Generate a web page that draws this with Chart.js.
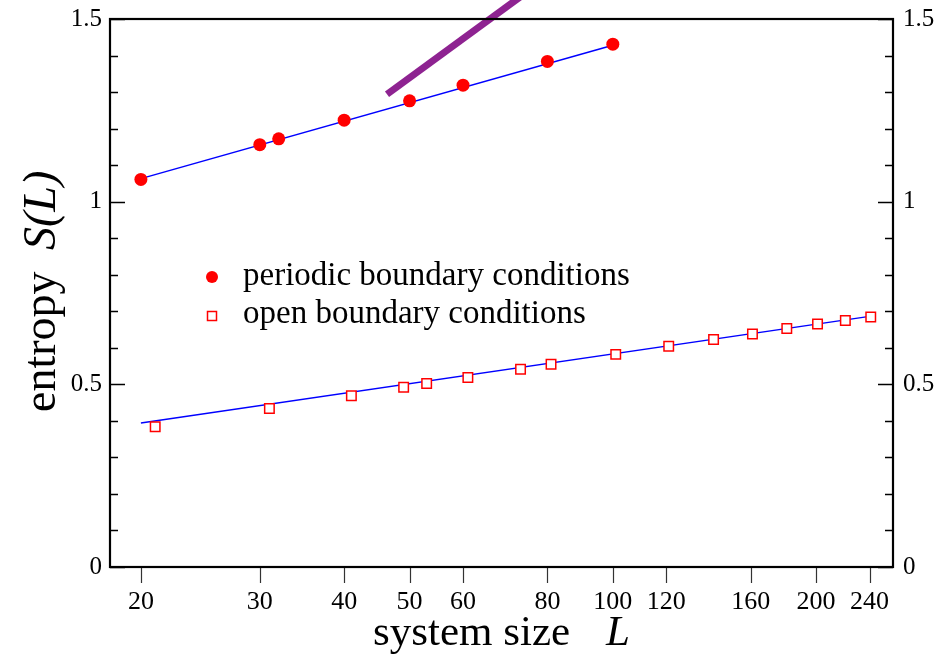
<!DOCTYPE html>
<html>
<head>
<meta charset="utf-8">
<script src="https://cdn.jsdelivr.net/npm/chart.js@4.4.0/dist/chart.umd.min.js"></script>
<style>
  html, body { margin: 0; padding: 0; background: #fff; }
  #wrap { width: 948px; height: 654px; }
</style>
</head>
<body>
<div id="wrap"><canvas id="entropyChart" width="948" height="654"></canvas></div>
<script>
// ===== data =====
const periodicL = [20, 30, 32, 40, 50, 60, 80, 100];
const periodicS = [1.061, 1.156, 1.172, 1.223, 1.276, 1.319, 1.384, 1.431];

const openL = [21, 31, 41, 49, 53, 61, 73, 81, 101, 121, 141, 161, 181, 201, 221, 241];
const openS = [0.384, 0.434, 0.469, 0.492, 0.502, 0.519, 0.541, 0.555, 0.582, 0.604, 0.6225, 0.638, 0.653, 0.665, 0.675, 0.684];

// fitted lines
const fitPeriodicL = [20, 100];
const fitPeriodicS = [1.063, 1.428];
const fitOpenL = [20, 240];
const fitOpenS = [0.394, 0.686];

// thick purple guide line
const guideL = [46.3, 78];
const guideS = [1.294, 1.6];

const xTicks = [20, 30, 40, 50, 60, 80, 100, 120, 160, 200, 240];
const yLabelVals = [0, 0.5, 1, 1.5];

const serif = '"Liberation Serif", "Times New Roman", serif';

function toXY(xs, ys) {
    return xs.map((x, i) => ({ x: x, y: ys[i] }));
}

function isLabelled(v) {
    return yLabelVals.some(l => Math.abs(l - v) < 1e-6);
}

function noPad(s) {
    s.paddingTop = 0;
    s.paddingBottom = 0;
    s.paddingLeft = 0;
    s.paddingRight = 0;
}

// ===== frame, ticks, titles, legend =====
const decorPlugin = {
    id: 'decor',
    afterDatasetsDraw(chart) {
        const ctx = chart.ctx;
        const a = chart.chartArea;
        const xs = chart.scales.x;
        const ys = chart.scales.y;
        ctx.save();

        // y ticks, inward on both sides
        ctx.strokeStyle = '#000';
        ctx.lineWidth = 1.3;
        ys.ticks.forEach(t => {
            const py = Math.round(ys.getPixelForValue(t.value)) + 0.5;
            const len = isLabelled(t.value) ? 15 : 8;
            ctx.beginPath();
            ctx.moveTo(a.left, py); ctx.lineTo(a.left + len, py);
            ctx.moveTo(a.right, py); ctx.lineTo(a.right - len, py);
            ctx.stroke();
        });

        // x ticks, outward
        ctx.strokeStyle = '#333';
        ctx.lineWidth = 1.2;
        xs.ticks.forEach(t => {
            const px = Math.round(xs.getPixelForValue(t.value)) + 0.5;
            ctx.beginPath();
            ctx.moveTo(px, a.bottom); ctx.lineTo(px, a.bottom + 16);
            ctx.stroke();
        });

        // frame
        ctx.strokeStyle = '#000';
        ctx.lineWidth = 2.2;
        ctx.strokeRect(a.left, a.top, a.right - a.left, a.bottom - a.top);

        // x title
        ctx.fillStyle = '#000';
        ctx.textBaseline = 'alphabetic';
        ctx.textAlign = 'left';
        ctx.font = '43px ' + serif;
        ctx.fillText('system size', 373, 645);
        ctx.font = 'italic 43px ' + serif;
        ctx.fillText('L', 606, 645);

        // y title
        ctx.save();
        ctx.translate(55, 412);
        ctx.rotate(-Math.PI / 2);
        ctx.font = '46px ' + serif;
        ctx.fillText('entropy', 0, 0);
        ctx.font = 'italic 46px ' + serif;
        ctx.fillText('S(L)', 162, 0);
        ctx.restore();

        // legend
        ctx.font = '33px ' + serif;
        ctx.fillText('periodic boundary conditions', 243, 285);
        ctx.fillText('open boundary conditions', 243, 323);
        ctx.fillStyle = '#ff0000';
        ctx.beginPath();
        ctx.arc(212, 277, 6, 0, Math.PI * 2);
        ctx.fill();
        ctx.fillStyle = '#fff';
        ctx.strokeStyle = '#ff0000';
        ctx.lineWidth = 1.5;
        ctx.fillRect(207.5, 311.5, 9, 9);
        ctx.strokeRect(207.5, 311.5, 9, 9);

        ctx.restore();
    }
};

new Chart(document.getElementById('entropyChart'), {
    type: 'scatter',
    data: {
        datasets: [
            {
                label: 'periodic boundary conditions',
                data: toXY(periodicL, periodicS),
                pointStyle: 'circle',
                pointRadius: 6.5,
                pointBackgroundColor: '#ff0000',
                pointBorderColor: '#ff0000',
                pointBorderWidth: 0,
                order: 0
            },
            {
                label: 'open boundary conditions',
                data: toXY(openL, openS),
                pointStyle: 'rect',
                pointRadius: 6.7,
                pointBackgroundColor: '#ffffff',
                pointBorderColor: '#ff0000',
                pointBorderWidth: 1.5,
                order: 0
            },
            {
                label: 'fit periodic',
                data: toXY(fitPeriodicL, fitPeriodicS),
                showLine: true,
                pointRadius: 0,
                borderColor: '#0000ff',
                borderWidth: 1.5,
                order: 1
            },
            {
                label: 'fit open',
                data: toXY(fitOpenL, fitOpenS),
                showLine: true,
                pointRadius: 0,
                borderColor: '#0000ff',
                borderWidth: 1.5,
                order: 1
            },
            {
                label: 'guide',
                data: toXY(guideL, guideS),
                showLine: true,
                pointRadius: 0,
                borderColor: '#8e2391',
                borderWidth: 7,
                borderCapStyle: 'butt',
                clip: false,
                order: 2
            }
        ]
    },
    options: {
        responsive: false,
        animation: false,
        events: [],
        layout: { padding: { top: 19, left: 0, right: 0, bottom: 0 } },
        plugins: {
            legend: { display: false },
            tooltip: { enabled: false }
        },
        scales: {
            x: {
                type: 'logarithmic',
                position: 'bottom',
                min: 18,
                max: 260,
                grid: { display: false, drawTicks: false },
                border: { display: false },
                afterBuildTicks: s => { s.ticks = xTicks.map(v => ({ value: v })); },
                afterFit: s => { s.height = 87; noPad(s); },
                ticks: {
                    autoSkip: false,
                    maxRotation: 0,
                    padding: 20,
                    color: '#000',
                    font: { family: serif, size: 26 },
                    callback: v => String(v)
                }
            },
            y: {
                type: 'linear',
                position: 'left',
                min: 0,
                max: 1.5,
                grid: { display: false, drawTicks: false },
                border: { display: false },
                afterFit: s => { s.width = 110; noPad(s); },
                ticks: {
                    stepSize: 0.1,
                    autoSkip: false,
                    padding: 8,
                    color: '#000',
                    font: { family: serif, size: 25 },
                    callback: v => isLabelled(v) ? String(Math.round(v * 10) / 10) : ''
                }
            },
            y2: {
                type: 'linear',
                position: 'right',
                min: 0,
                max: 1.5,
                grid: { display: false, drawTicks: false },
                border: { display: false },
                afterFit: s => { s.width = 55; noPad(s); },
                ticks: {
                    stepSize: 0.5,
                    padding: 10,
                    color: '#000',
                    font: { family: serif, size: 25 },
                    callback: v => String(Math.round(v * 10) / 10)
                }
            }
        }
    },
    plugins: [decorPlugin]
});
</script>
</body>
</html>
